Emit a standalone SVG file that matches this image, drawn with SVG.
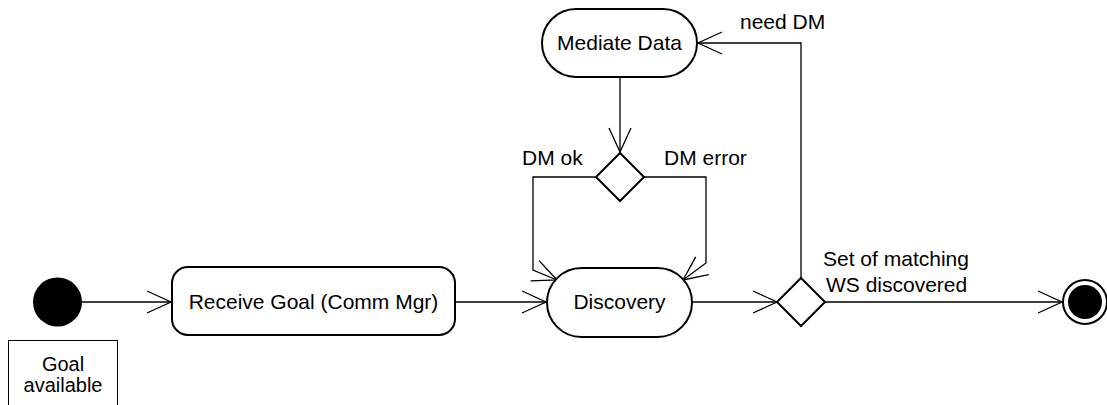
<svg xmlns="http://www.w3.org/2000/svg" width="1107" height="405" viewBox="0 0 1107 405">
<style>
.node{fill:#fff;stroke:#000;stroke-width:2}
.edge{fill:none;stroke:#000;stroke-width:1.3}
text{font-family:"Liberation Sans",Arial,sans-serif;font-size:21px;fill:#000}
.c{text-anchor:middle}
.small{font-size:20px}
</style>
<defs>
<marker id="arr" markerUnits="userSpaceOnUse" markerWidth="30" markerHeight="30" viewBox="-26 -13 30 26" refX="0" refY="0" orient="auto">
<path d="M-24,-11 L0,0 L-24,11" fill="none" stroke="#000" stroke-width="1.3"/>
</marker>
</defs>
<g id="connectors">
<path class="edge" d="M82,302 H171" marker-end="url(#arr)"/>
<path class="edge" d="M455,302 H546" marker-end="url(#arr)"/>
<path class="edge" d="M692,302 H777" marker-end="url(#arr)"/>
<path class="edge" d="M825,302 H1062" marker-end="url(#arr)"/>
<path class="edge" d="M801,278 V43 H698" marker-end="url(#arr)"/>
<path class="edge" d="M620,77 V152" marker-end="url(#arr)"/>
<path class="edge" d="M595,177 H533 V270 L557,280" marker-end="url(#arr)"/>
<path class="edge" d="M644,177 H706 V263 L683,280" marker-end="url(#arr)"/>
</g>
<g id="start"><circle cx="57.5" cy="302" r="24.5" fill="#000"/></g>
<g id="goal-available">
<rect x="8.5" y="340.5" width="109" height="80" fill="#fff" stroke="#000" stroke-width="1"/>
<text class="c small" x="63" y="371">Goal</text>
<text class="c small" x="63" y="392">available</text>
</g>
<g id="receive-goal">
<rect class="node" x="172" y="267" width="283" height="68" rx="16" ry="16"/>
<text class="c" x="313.5" y="309">Receive Goal (Comm Mgr)</text>
</g>
<g id="discovery">
<rect class="node" x="547" y="268" width="145" height="69" rx="34.5" ry="34.5"/>
<text class="c" x="619.5" y="309">Discovery</text>
</g>
<g id="mediate-data">
<rect class="node" x="542" y="9" width="155" height="68" rx="34" ry="34"/>
<text class="c" x="619.5" y="50">Mediate Data</text>
</g>
<g id="dm-decision">
<polygon class="node" points="620,153 644,177 620,201 596,177"/>
</g>
<g id="ws-decision">
<polygon class="node" points="801,278 825,302 801,326 777,302"/>
</g>
<g id="end">
<circle cx="1085" cy="302" r="22" fill="#fff" stroke="#000" stroke-width="2"/>
<circle cx="1085" cy="302" r="17" fill="#000"/>
</g>
<g id="labels">
<text x="740" y="29">need DM</text>
<text x="522" y="165">DM ok</text>
<text x="664" y="165">DM error</text>
<text x="823" y="266">Set of matching</text>
<text x="826" y="292">WS discovered</text>
</g>
</svg>
